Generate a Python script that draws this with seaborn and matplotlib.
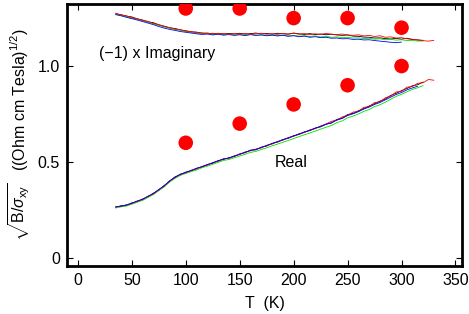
import numpy as np
import pandas as pd
import matplotlib
matplotlib.use("Agg")
import matplotlib.pyplot as plt
import seaborn as sns

# ---- data ----
T_START, T_STEP = 35, 5

imag_black = [1.272, 1.268, 1.260, 1.256, 1.246, 1.240, 1.230, 1.226, 1.214, 1.208, 1.199, 1.196, 1.188, 1.184,
              1.178, 1.177, 1.171, 1.172, 1.168, 1.171, 1.166, 1.170, 1.167, 1.171, 1.166, 1.169, 1.172, 1.167,
              1.170, 1.166, 1.171, 1.168, 1.166, 1.172, 1.168, 1.165, 1.169, 1.164, 1.167, 1.163, 1.166, 1.162,
              1.160, 1.162, 1.156, 1.155, 1.151, 1.150, 1.146, 1.147, 1.143, 1.141, 1.144, 1.140, 1.145, 1.138,
              1.136, 1.134]
imag_red = [1.276, 1.266, 1.262, 1.252, 1.247, 1.238, 1.233, 1.222, 1.217, 1.206, 1.201, 1.193, 1.190, 1.182,
            1.180, 1.174, 1.173, 1.168, 1.171, 1.167, 1.170, 1.165, 1.169, 1.166, 1.170, 1.165, 1.168, 1.171,
            1.166, 1.169, 1.165, 1.170, 1.167, 1.171, 1.166, 1.169, 1.164, 1.168, 1.165, 1.170, 1.166, 1.164,
            1.167, 1.162, 1.160, 1.163, 1.157, 1.160, 1.154, 1.158, 1.150, 1.152, 1.146, 1.148, 1.142, 1.140,
            1.136, 1.132, 1.130, 1.134]
imag_green = [1.270, 1.265, 1.258, 1.250, 1.244, 1.236, 1.229, 1.220, 1.212, 1.204, 1.197, 1.191, 1.186, 1.180,
              1.176, 1.172, 1.168, 1.169, 1.165, 1.167, 1.163, 1.166, 1.162, 1.165, 1.161, 1.164, 1.160, 1.163,
              1.159, 1.162, 1.158, 1.161, 1.157, 1.160, 1.156, 1.158, 1.154, 1.157, 1.152, 1.155, 1.150, 1.152,
              1.148, 1.150, 1.146, 1.147, 1.143, 1.145, 1.140, 1.142, 1.137, 1.139, 1.135, 1.137, 1.133, 1.134,
              1.130, 1.131]
imag_blue = [1.268, 1.262, 1.254, 1.247, 1.240, 1.232, 1.224, 1.216, 1.206, 1.198, 1.191, 1.186, 1.180, 1.176,
             1.172, 1.168, 1.165, 1.167, 1.162, 1.166, 1.161, 1.164, 1.160, 1.163, 1.159, 1.164, 1.160, 1.162,
             1.158, 1.161, 1.157, 1.160, 1.155, 1.158, 1.153, 1.156, 1.150, 1.153, 1.148, 1.150, 1.145, 1.146,
             1.142, 1.143, 1.139, 1.140, 1.136, 1.137, 1.133, 1.130, 1.127, 1.124, 1.122, 1.125]

real_black = [0.262, 0.272, 0.273, 0.287, 0.293, 0.307, 0.318, 0.337, 0.353, 0.377, 0.398, 0.422, 0.433, 0.447,
              0.453, 0.467, 0.473, 0.487, 0.493, 0.507, 0.513, 0.522, 0.528, 0.542, 0.548, 0.562, 0.563, 0.577,
              0.583, 0.597, 0.603, 0.617, 0.623, 0.637, 0.643, 0.657, 0.663, 0.677, 0.683, 0.697, 0.703, 0.722,
              0.728, 0.747, 0.753, 0.767, 0.778, 0.792, 0.803, 0.817, 0.828, 0.847, 0.858, 0.872, 0.883, 0.897,
              0.903, 0.917]
real_red = [0.268, 0.268, 0.277, 0.283, 0.297, 0.303, 0.322, 0.333, 0.357, 0.373, 0.402, 0.418, 0.437, 0.443,
            0.457, 0.463, 0.477, 0.483, 0.497, 0.503, 0.517, 0.518, 0.532, 0.538, 0.552, 0.558, 0.567, 0.573,
            0.587, 0.593, 0.607, 0.613, 0.627, 0.633, 0.647, 0.653, 0.667, 0.673, 0.687, 0.698, 0.712, 0.718,
            0.735, 0.743, 0.760, 0.763, 0.785, 0.788, 0.810, 0.813, 0.835, 0.843, 0.865, 0.868, 0.890, 0.893,
            0.910, 0.913, 0.930, 0.926]
real_green = [0.260, 0.266, 0.270, 0.280, 0.290, 0.300, 0.315, 0.330, 0.350, 0.370, 0.395, 0.414, 0.430, 0.440,
              0.450, 0.458, 0.470, 0.478, 0.488, 0.498, 0.508, 0.513, 0.522, 0.531, 0.540, 0.550, 0.555, 0.565,
              0.574, 0.584, 0.593, 0.603, 0.612, 0.622, 0.632, 0.642, 0.651, 0.661, 0.671, 0.681, 0.690, 0.705,
              0.714, 0.730, 0.739, 0.750, 0.764, 0.773, 0.789, 0.798, 0.812, 0.827, 0.842, 0.853, 0.866, 0.878,
              0.887, 0.898]
real_blue = [0.266, 0.270, 0.276, 0.285, 0.296, 0.306, 0.321, 0.336, 0.356, 0.376, 0.401, 0.421, 0.436, 0.446,
             0.456, 0.467, 0.476, 0.486, 0.496, 0.506, 0.516, 0.521, 0.531, 0.541, 0.551, 0.560, 0.566, 0.576,
             0.586, 0.596, 0.606, 0.616, 0.626, 0.636, 0.646, 0.656, 0.666, 0.676, 0.686, 0.696, 0.704, 0.718,
             0.727, 0.742, 0.751, 0.762, 0.776, 0.786, 0.800, 0.810, 0.824, 0.838, 0.852, 0.862, 0.876, 0.886,
             0.895]

dot_T = [100, 150, 200, 250, 300]
dot_real = [0.60, 0.70, 0.80, 0.90, 1.00]
dot_imag = [1.30, 1.30, 1.25, 1.25, 1.20]

x_ticks = [0, 50, 100, 150, 200, 250, 300, 350]
y_ticks = [0, 0.5, 1.0]
y_ticklabels = ["0", "0.5", "1.0"]

# ---- build long table ----
rows = []
series = [("imag", "black", imag_black), ("imag", "green", imag_green), ("imag", "blue", imag_blue),
          ("imag", "red", imag_red),
          ("real", "black", real_black), ("real", "green", real_green), ("real", "red", real_red),
          ("real", "blue", real_blue)]
for part, col, vals in series:
    T = T_START + T_STEP * np.arange(len(vals))
    for t, v in zip(T, vals):
        rows.append({"T": t, "val": v, "color": col, "part": part, "key": part + col})
df = pd.DataFrame(rows)
dots = pd.DataFrame({"T": dot_T * 2, "val": dot_real + dot_imag})

sns.set_style("ticks")
plt.rcParams['font.family'] = ['Liberation Sans', 'DejaVu Sans']
plt.rcParams['mathtext.fontset'] = 'custom'
plt.rcParams['mathtext.rm'] = 'Liberation Sans'
plt.rcParams['mathtext.it'] = 'Liberation Sans:italic'
for k in ['text.color', 'axes.labelcolor', 'xtick.color', 'ytick.color', 'axes.edgecolor']:
    plt.rcParams[k] = 'black'

fig = plt.figure(figsize=(4.69, 3.14), dpi=100)
ax = fig.add_axes([0.143, 0.153, 0.842, 0.834])

pal = {"black": "#000000", "green": "#00e000", "blue": "#0000ff", "red": "#ff0000"}
for key, sub in df.groupby("key", sort=False):
    sns.lineplot(data=sub, x="T", y="val", color=pal[sub["color"].iloc[0]], lw=0.6, ax=ax,
                 legend=False, estimator=None)
sns.scatterplot(data=dots, x="T", y="val", color="#ff0000", s=110, edgecolor="none", ax=ax, zorder=5)

ax.set_xlim(-10, 356)
ax.set_ylim(-0.042, 1.323)
ax.set_xticks(x_ticks)
ax.set_yticks(y_ticks)
ax.set_yticklabels(y_ticklabels)
ax.tick_params(direction="in", length=4, width=0.8, top=True, right=True, labelsize=11.5, pad=5,
               colors="black")
for s in ax.spines.values():
    s.set_linewidth(2)
    s.set_color("black")
    s.set_visible(True)

ax.set_xlabel("T  (K)", fontsize=11.5, labelpad=6, color="black")
ax.set_ylabel(r"$\sqrt{\mathrm{B}/\sigma_{\mathrm{xy}}}$   ((Ohm cm Tesla)$^{1/2}$)", fontsize=11.5,
              labelpad=4, color="black")

ax.text(20, 1.068, "(\u22121) x Imaginary", fontsize=11.5, va="center", ha="left", color="black")
ax.text(198, 0.495, "Real", fontsize=11.5, va="center", ha="center", color="black")

fig.savefig("out.png", dpi=100)
